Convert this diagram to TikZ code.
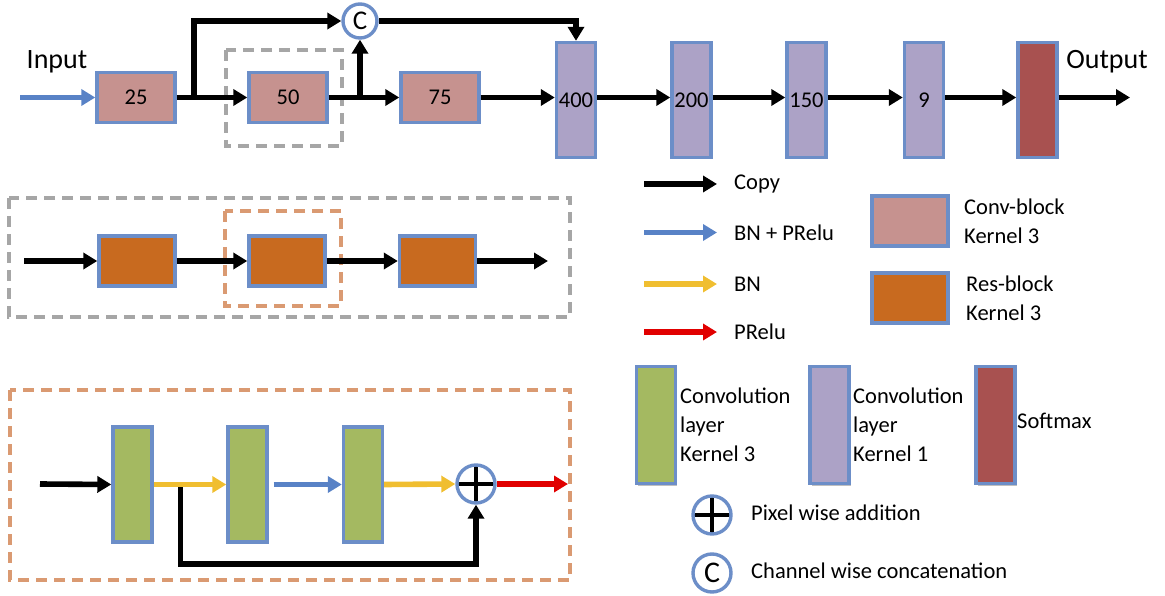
\documentclass[tikz,border=0pt]{standalone}
\usepackage{fontspec}
\setmainfont{Carlito}
\usetikzlibrary{arrows.meta,shadows}

\definecolor{edgeblue}{RGB}{108,142,200}
\definecolor{convpink}{RGB}{198,146,143}
\definecolor{resorange}{RGB}{200,106,31}
\definecolor{kthree}{RGB}{164,185,97}
\definecolor{kone}{RGB}{172,162,198}
\definecolor{softred}{RGB}{168,81,80}
\definecolor{dashgray}{RGB}{166,166,166}
\definecolor{dashorange}{RGB}{218,154,114}
\definecolor{arrblue}{RGB}{88,130,198}
\definecolor{arryellow}{RGB}{240,190,48}
\definecolor{arrred}{RGB}{225,0,0}

\tikzset{
  flow/.style={line width=5.6pt, draw=#1, -{Triangle[length=14pt,width=16pt]}},
  flow/.default=black,
  shade/.style={drop shadow={shadow xshift=1.5pt, shadow yshift=-2pt, opacity=0.25, fill=black}},
  blockbox/.style={draw=edgeblue, line width=3.4pt, fill=#1, shade, inner sep=0pt},
  convblock/.style={blockbox=convpink, minimum width=78pt, minimum height=50pt},
  resblock/.style={blockbox=resorange, minimum width=76pt, minimum height=50pt},
  tallbox/.style={blockbox=#1, minimum width=39pt, minimum height=115pt},
  ring/.style={circle, draw=edgeblue, line width=3.4pt, fill=white, inner sep=0pt, minimum size=#1},
  catnode/.style={ring=#1, font=\fontsize{27}{30}\selectfont},
  addnode/.style={ring=#1, path picture={
      \draw[black, line width=3.6pt]
        (path picture bounding box.north) -- (path picture bounding box.south)
        (path picture bounding box.west) -- (path picture bounding box.east);}},
  graydash/.style={draw=dashgray, line width=3.6pt, dash pattern=on 11pt off 7pt},
  orangedash/.style={draw=dashorange, line width=3.6pt, dash pattern=on 11pt off 7pt},
  lbl/.style={anchor=west, inner sep=0pt, align=left},
  bigtext/.style={font=\fontsize{28}{32}\selectfont, inner sep=0pt}
}

\begin{document}
\begin{tikzpicture}[x=1pt, y=-1pt, font=\fontsize{22.5}{29}\selectfont]
\useasboundingbox (0,0) rectangle (1165,596);

% ---------- main network ----------
\node[bigtext] (inlabel) at (57,62) {Input};
\node[bigtext] (outlabel) at (1107,62) {Output};

\node[convblock] (b25) at (136,97.5) {25};
\node[convblock] (b50) at (288,97.5) {50};
\node[convblock] (b75) at (440,97.5) {75};
\node[tallbox=kone] (b400) at (576,100) {400};
\node[tallbox=kone] (b200) at (691.5,100) {200};
\node[tallbox=kone] (b150) at (806.5,100) {150};
\node[tallbox=kone] (b9) at (924,100) {9};
\node[tallbox=softred] (bsm) at (1037.5,100) {};
\node[catnode=34pt] (cat) at (360,21) {C};

\draw[graydash] (226,50) rectangle (342,146);

\coordinate (inpt) at (20,97.5);
\coordinate (split1) at (194,97.5);
\coordinate (split2) at (360,97.5);
\coordinate (outpt) at (1130,97.5);

\draw[flow=arrblue] (inpt) -- (b25.west);
\draw[flow] (b25.east) -- (b50.west);
\draw[flow] (split1) |- (cat.west);
\draw[flow] (b50.east) -- (b75.west);
\draw[flow] (split2) -- (cat.south);
\draw[flow] (cat.east) -| (b400.north);
\draw[flow] (b75.east) -- (b75.east -| b400.west);
\draw[flow] (b400.east |- b75.east) -- (b200.west |- b75.east);
\draw[flow] (b200.east |- b75.east) -- (b150.west |- b75.east);
\draw[flow] (b150.east |- b75.east) -- (b9.west |- b75.east);
\draw[flow] (b9.east |- b75.east) -- (bsm.west |- b75.east);
\draw[flow] (bsm.east |- b75.east) -- (outpt);

% ---------- chain of res-blocks ----------
\draw[graydash] (9,198) rectangle (570,317);
\draw[orangedash] (225,211) rectangle (341,306);

\node[resblock] (r1) at (137,261) {};
\node[resblock] (r2) at (287,261) {};
\node[resblock] (r3) at (437.5,261) {};
\coordinate (rin) at (24,261);
\coordinate (rout) at (548,261);

\draw[flow] (rin) -- (r1.west);
\draw[flow] (r1.east) -- (r2.west);
\draw[flow] (r2.east) -- (r3.west);
\draw[flow] (r3.east) -- (rout);

% ---------- inside a res-block ----------
\draw[orangedash] (10,390) rectangle (570,580);

\node[tallbox=kthree] (g1) at (132.5,484.5) {};
\node[tallbox=kthree] (g2) at (247.5,484.5) {};
\node[tallbox=kthree] (g3) at (363,484.5) {};
\node[addnode=38pt] (add) at (476,484) {};
\coordinate (gin) at (40,484);
\coordinate (gout) at (568,484);
\coordinate (skip) at (180.5,484);

\draw[flow] (gin) -- (g1.west);
\draw[flow] (skip) -- (180.5,564) -| (add.south);
\draw[flow=arryellow] (g1.east) -- (g2.west);
\draw[flow=arrblue] ([xshift=5pt]g2.east) -- (g3.west);
\draw[flow=arryellow] (g3.east) -- (add.west);
\draw[flow=arrred] (add.east) -- (gout);

% ---------- legend ----------
\coordinate (lc0) at (644,184);   \coordinate (lc1) at (717,184);
\coordinate (lb0) at (644,232.5); \coordinate (lb1) at (717,232.5);
\coordinate (ly0) at (644,284);   \coordinate (ly1) at (717,284);
\coordinate (lr0) at (644,332);   \coordinate (lr1) at (717,332);
\draw[flow] (lc0) -- (lc1);
\draw[flow=arrblue] (lb0) -- (lb1);
\draw[flow=arryellow] (ly0) -- (ly1);
\draw[flow=arrred] (lr0) -- (lr1);
\node[lbl] (tcopy) at (734,184) {Copy};
\node[lbl] (tbnp) at (734,232.5) {BN + PRelu};
\node[lbl] (tbn) at (734,284) {BN};
\node[lbl] (tpr) at (734,332) {PRelu};

\node[convblock, minimum width=76pt] (lconv) at (910,221) {};
\node[resblock] (lres) at (910,298) {};
\node[lbl] (tconv) at (964,221) {Conv-block\\Kernel 3};
\node[lbl] (tres) at (966,298) {Res-block\\Kernel 3};

\node[tallbox=kthree, minimum height=117pt] (lk3) at (656,425) {};
\node[tallbox=kone, minimum height=117pt] (lk1) at (829.5,425) {};
\node[tallbox=softred, minimum height=117pt] (lsm) at (995.5,425) {};
\node[lbl] (tk3) at (680,425) {Convolution\\layer\\Kernel 3};
\node[lbl] (tk1) at (853,425) {Convolution\\layer\\Kernel 1};
\node[lbl] (tsm) at (1017,421) {Softmax};

\node[addnode=38pt] (ladd) at (712,515) {};
\node[catnode=38pt, font=\fontsize{30}{32}\selectfont] (lcat) at (712,573) {C};
\node[lbl] (tadd) at (751,513) {Pixel wise addition};
\node[lbl] (tcat) at (751,571) {Channel wise concatenation};
\end{tikzpicture}
\end{document}
